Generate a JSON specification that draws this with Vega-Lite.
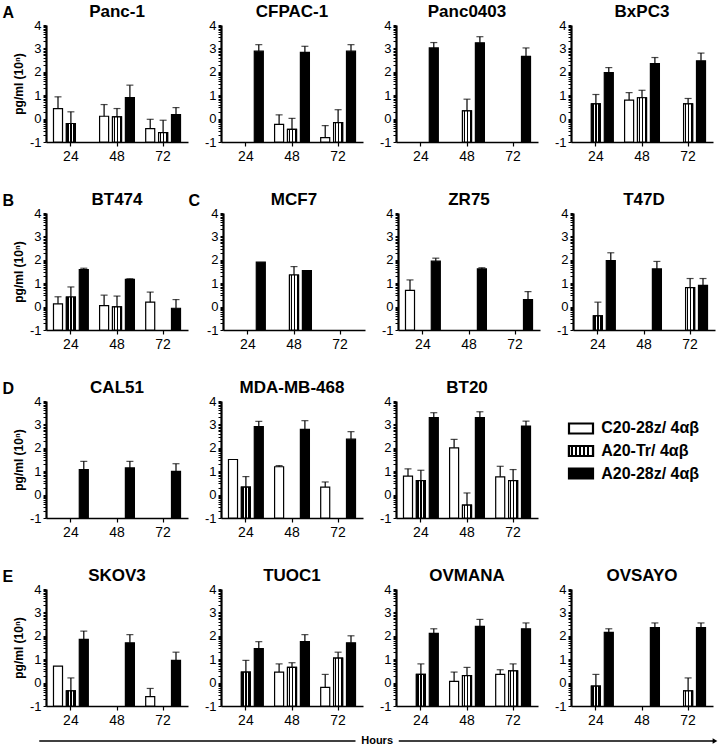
{
"$schema": "https://vega.github.io/schema/vega-lite/v6.json",
"background": "white",
"padding": {"left": 2, "top": 3, "right": 0, "bottom": 0},
"config": {
  "view": {"stroke": null},
  "font": "Liberation Sans",
  "axis": {"labelFont": "Liberation Sans", "labelFontSize": 13, "labelColor": "black", "domainColor": "black", "tickColor": "black", "grid": false, "titleFont": "Liberation Sans", "titleFontWeight": "bold", "titleFontSize": 12, "titleColor": "black"},
  "axisX": {"labelAngle": 0, "tickSize": 4, "tickWidth": 1.2, "domainWidth": 1.6, "labelPadding": 3, "labelFontSize": 14},
  "title": {"font": "Liberation Sans", "fontSize": 17, "fontWeight": "bold", "color": "black", "offset": -2}
},
"datasets": {
"bars": [
{"cell":"Panc-1","t":"24","g":"C20-28z/ 4αβ","v":0.43,"e":0.93},
{"cell":"Panc-1","t":"24","g":"A20-Tr/ 4αβ","v":-0.21,"e":0.29},
{"cell":"Panc-1","t":"48","g":"C20-28z/ 4αβ","v":0.1,"e":0.6},
{"cell":"Panc-1","t":"48","g":"A20-Tr/ 4αβ","v":0.07,"e":0.43},
{"cell":"Panc-1","t":"48","g":"A20-28z/ 4αβ","v":0.9,"e":1.43},
{"cell":"Panc-1","t":"72","g":"C20-28z/ 4αβ","v":-0.43,"e":-0.03},
{"cell":"Panc-1","t":"72","g":"A20-Tr/ 4αβ","v":-0.6,"e":-0.07},
{"cell":"Panc-1","t":"72","g":"A20-28z/ 4αβ","v":0.17,"e":0.47},
{"cell":"CFPAC-1","t":"24","g":"A20-28z/ 4αβ","v":2.88,"e":3.16},
{"cell":"CFPAC-1","t":"48","g":"C20-28z/ 4αβ","v":-0.25,"e":0.16},
{"cell":"CFPAC-1","t":"48","g":"A20-Tr/ 4αβ","v":-0.46,"e":0.01},
{"cell":"CFPAC-1","t":"48","g":"A20-28z/ 4αβ","v":2.83,"e":3.09},
{"cell":"CFPAC-1","t":"72","g":"C20-28z/ 4αβ","v":-0.81,"e":-0.3},
{"cell":"CFPAC-1","t":"72","g":"A20-Tr/ 4αβ","v":-0.17,"e":0.38},
{"cell":"CFPAC-1","t":"72","g":"A20-28z/ 4αβ","v":2.88,"e":3.16},
{"cell":"Panc0403","t":"24","g":"A20-28z/ 4αβ","v":3.02,"e":3.25},
{"cell":"Panc0403","t":"48","g":"A20-Tr/ 4αβ","v":0.33,"e":0.83},
{"cell":"Panc0403","t":"48","g":"A20-28z/ 4αβ","v":3.24,"e":3.5},
{"cell":"Panc0403","t":"72","g":"A20-28z/ 4αβ","v":2.66,"e":3.02},
{"cell":"BxPC3","t":"24","g":"A20-Tr/ 4αβ","v":0.63,"e":1.03},
{"cell":"BxPC3","t":"24","g":"A20-28z/ 4αβ","v":1.97,"e":2.18},
{"cell":"BxPC3","t":"48","g":"C20-28z/ 4αβ","v":0.79,"e":1.11},
{"cell":"BxPC3","t":"48","g":"A20-Tr/ 4αβ","v":0.89,"e":1.21},
{"cell":"BxPC3","t":"48","g":"A20-28z/ 4αβ","v":2.35,"e":2.61},
{"cell":"BxPC3","t":"72","g":"A20-Tr/ 4αβ","v":0.63,"e":0.86},
{"cell":"BxPC3","t":"72","g":"A20-28z/ 4αβ","v":2.47,"e":2.8},
{"cell":"BT474","t":"24","g":"C20-28z/ 4αβ","v":0.12,"e":0.42},
{"cell":"BT474","t":"24","g":"A20-Tr/ 4αβ","v":0.41,"e":0.84},
{"cell":"BT474","t":"24","g":"A20-28z/ 4αβ","v":1.58,"e":1.64},
{"cell":"BT474","t":"48","g":"C20-28z/ 4αβ","v":0.04,"e":0.49},
{"cell":"BT474","t":"48","g":"A20-Tr/ 4αβ","v":-0.01,"e":0.45},
{"cell":"BT474","t":"48","g":"A20-28z/ 4αβ","v":1.16,"e":1.19},
{"cell":"BT474","t":"72","g":"C20-28z/ 4αβ","v":0.19,"e":0.62},
{"cell":"BT474","t":"72","g":"A20-28z/ 4αβ","v":-0.07,"e":0.3},
{"cell":"MCF7","t":"24","g":"A20-28z/ 4αβ","v":1.9,"e":1.9},
{"cell":"MCF7","t":"48","g":"A20-Tr/ 4αβ","v":1.35,"e":1.71},
{"cell":"MCF7","t":"48","g":"A20-28z/ 4αβ","v":1.54,"e":1.54},
{"cell":"ZR75","t":"24","g":"C20-28z/ 4αβ","v":0.69,"e":1.14},
{"cell":"ZR75","t":"24","g":"A20-28z/ 4αβ","v":1.94,"e":2.07},
{"cell":"ZR75","t":"48","g":"A20-28z/ 4αβ","v":1.61,"e":1.66},
{"cell":"ZR75","t":"72","g":"A20-28z/ 4αβ","v":0.3,"e":0.64},
{"cell":"T47D","t":"24","g":"A20-Tr/ 4αβ","v":-0.4,"e":0.19},
{"cell":"T47D","t":"24","g":"A20-28z/ 4αβ","v":1.97,"e":2.3},
{"cell":"T47D","t":"48","g":"A20-28z/ 4αβ","v":1.61,"e":1.93},
{"cell":"T47D","t":"72","g":"A20-Tr/ 4αβ","v":0.81,"e":1.2},
{"cell":"T47D","t":"72","g":"A20-28z/ 4αβ","v":0.91,"e":1.2},
{"cell":"CAL51","t":"24","g":"A20-28z/ 4αβ","v":1.07,"e":1.42},
{"cell":"CAL51","t":"48","g":"A20-28z/ 4αβ","v":1.14,"e":1.42},
{"cell":"CAL51","t":"72","g":"A20-28z/ 4αβ","v":0.99,"e":1.32},
{"cell":"MDA-MB-468","t":"24","g":"C20-28z/ 4αβ","v":1.5,"e":1.5},
{"cell":"MDA-MB-468","t":"24","g":"A20-Tr/ 4αβ","v":0.32,"e":0.77},
{"cell":"MDA-MB-468","t":"24","g":"A20-28z/ 4αβ","v":2.91,"e":3.13},
{"cell":"MDA-MB-468","t":"48","g":"C20-28z/ 4αβ","v":1.19,"e":1.24},
{"cell":"MDA-MB-468","t":"48","g":"A20-28z/ 4αβ","v":2.79,"e":3.16},
{"cell":"MDA-MB-468","t":"72","g":"C20-28z/ 4αβ","v":0.32,"e":0.54},
{"cell":"MDA-MB-468","t":"72","g":"A20-28z/ 4αβ","v":2.37,"e":2.69},
{"cell":"BT20","t":"24","g":"C20-28z/ 4αβ","v":0.79,"e":1.1},
{"cell":"BT20","t":"24","g":"A20-Tr/ 4αβ","v":0.6,"e":1.04},
{"cell":"BT20","t":"24","g":"A20-28z/ 4αβ","v":3.29,"e":3.5},
{"cell":"BT20","t":"48","g":"C20-28z/ 4αβ","v":2.0,"e":2.36},
{"cell":"BT20","t":"48","g":"A20-Tr/ 4αβ","v":-0.45,"e":0.07},
{"cell":"BT20","t":"48","g":"A20-28z/ 4αβ","v":3.29,"e":3.54},
{"cell":"BT20","t":"72","g":"C20-28z/ 4αβ","v":0.76,"e":1.21},
{"cell":"BT20","t":"72","g":"A20-Tr/ 4αβ","v":0.6,"e":1.07},
{"cell":"BT20","t":"72","g":"A20-28z/ 4αβ","v":2.93,"e":3.14},
{"cell":"SKOV3","t":"24","g":"C20-28z/ 4αβ","v":0.7,"e":0.7},
{"cell":"SKOV3","t":"24","g":"A20-Tr/ 4αβ","v":-0.35,"e":0.2},
{"cell":"SKOV3","t":"24","g":"A20-28z/ 4αβ","v":1.85,"e":2.2},
{"cell":"SKOV3","t":"48","g":"A20-28z/ 4αβ","v":1.7,"e":2.05},
{"cell":"SKOV3","t":"72","g":"C20-28z/ 4αβ","v":-0.6,"e":-0.25},
{"cell":"SKOV3","t":"72","g":"A20-28z/ 4αβ","v":0.95,"e":1.3},
{"cell":"TUOC1","t":"24","g":"A20-Tr/ 4αβ","v":0.45,"e":0.95},
{"cell":"TUOC1","t":"24","g":"A20-28z/ 4αβ","v":1.45,"e":1.75},
{"cell":"TUOC1","t":"48","g":"C20-28z/ 4αβ","v":0.45,"e":0.8},
{"cell":"TUOC1","t":"48","g":"A20-Tr/ 4αβ","v":0.65,"e":0.85},
{"cell":"TUOC1","t":"48","g":"A20-28z/ 4αβ","v":1.75,"e":2.05},
{"cell":"TUOC1","t":"72","g":"C20-28z/ 4αβ","v":-0.2,"e":0.35},
{"cell":"TUOC1","t":"72","g":"A20-Tr/ 4αβ","v":1.05,"e":1.3},
{"cell":"TUOC1","t":"72","g":"A20-28z/ 4αβ","v":1.7,"e":2.0},
{"cell":"OVMANA","t":"24","g":"A20-Tr/ 4αβ","v":0.35,"e":0.8},
{"cell":"OVMANA","t":"24","g":"A20-28z/ 4αβ","v":2.1,"e":2.3},
{"cell":"OVMANA","t":"48","g":"C20-28z/ 4αβ","v":0.05,"e":0.45},
{"cell":"OVMANA","t":"48","g":"A20-Tr/ 4αβ","v":0.3,"e":0.65},
{"cell":"OVMANA","t":"48","g":"A20-28z/ 4αβ","v":2.4,"e":2.7},
{"cell":"OVMANA","t":"72","g":"C20-28z/ 4αβ","v":0.35,"e":0.55},
{"cell":"OVMANA","t":"72","g":"A20-Tr/ 4αβ","v":0.5,"e":0.8},
{"cell":"OVMANA","t":"72","g":"A20-28z/ 4αβ","v":2.3,"e":2.55},
{"cell":"OVSAYO","t":"24","g":"A20-Tr/ 4αβ","v":-0.15,"e":0.35},
{"cell":"OVSAYO","t":"24","g":"A20-28z/ 4αβ","v":2.15,"e":2.3},
{"cell":"OVSAYO","t":"48","g":"A20-28z/ 4αβ","v":2.35,"e":2.55},
{"cell":"OVSAYO","t":"72","g":"A20-Tr/ 4αβ","v":-0.35,"e":0.2},
{"cell":"OVSAYO","t":"72","g":"A20-28z/ 4αβ","v":2.35,"e":2.55}
],
"key": [{"g": "C20-28z/ 4αβ"}, {"g": "A20-Tr/ 4αβ"}, {"g": "A20-28z/ 4αβ"}],
"arrowline": [{"start": 0, "end": 0.468}, {"start": 0.532, "end": 1}],
"arrowhead": [{"end": 1}],
"arrowlabel": [{"mid": 0.5, "label": "Hours"}]
},
"spacing": 8,
"vconcat": [
{
"spacing": 28,
"vconcat": [
{
"title": {"text": "A", "anchor": "start", "fontSize": 16, "fontWeight": "bold", "offset": 0, "dx": -10, "dy": 18},
"spacing": 16,
"resolve": {"scale": {"fill": "independent"}, "legend": {"fill": "independent"}},
"hconcat": [
{"title": "Panc-1", "width": 142, "height": 117, "data": {"name": "bars"}, "transform": [{"filter": "datum.cell === 'Panc-1'"}],
 "encoding": {"x": {"field": "t", "type": "nominal", "title": null, "scale": {"domain": ["24","48","72"], "paddingInner": 0.2, "paddingOuter": 0.14}}, "xOffset": {"field": "g", "type": "nominal", "scale": {"domain": ["C20-28z/ 4αβ","A20-Tr/ 4αβ","A20-28z/ 4αβ"], "paddingInner": 0.3, "paddingOuter": 0.08}}},
 "layer": [
  {"mark": {"type": "bar", "stroke": "black", "strokeWidth": 1.2}, "encoding": {"y": {"field": "v", "type": "quantitative", "title": "pg/ml (10ⁿ)", "scale": {"domain": [-1,4], "nice": false, "zero": false}, "axis": {"values": [-1,-0.699,-0.523,-0.398,-0.301,-0.222,-0.155,-0.097,-0.046,0,0.301,0.477,0.602,0.699,0.778,0.845,0.903,0.954,1,1.301,1.477,1.602,1.699,1.778,1.845,1.903,1.954,2,2.301,2.477,2.602,2.699,2.778,2.845,2.903,2.954,3,3.301,3.477,3.602,3.699,3.778,3.845,3.903,3.954,4], "tickCount": 100, "labelExpr": "datum.value % 1 === 0 ? '' + datum.value : ''", "labelOverlap": false, "labelBound": false, "tickSize": 3, "tickWidth": 1, "domainWidth": 2.2, "labelPadding": 2, "titlePadding": 4}}, "y2": {"datum": -1}, "fill": {"field": "g", "type": "nominal", "scale": {"domain": ["C20-28z/ 4αβ","A20-Tr/ 4αβ","A20-28z/ 4αβ"], "range": ["white", "#808080", "black"]}, "legend": null}}},
  {"transform": [{"filter": "datum.g === 'A20-Tr/ 4αβ'"}], "mark": {"type": "bar", "stroke": "black", "strokeWidth": 1.2, "fill": {"gradient": "linear", "x1": 0, "y1": 0, "x2": 1, "y2": 0, "stops": [{"offset": 0, "color": "white"}, {"offset": 0.12, "color": "white"}, {"offset": 0.12, "color": "black"}, {"offset": 0.28, "color": "black"}, {"offset": 0.28, "color": "white"}, {"offset": 0.45, "color": "white"}, {"offset": 0.45, "color": "black"}, {"offset": 0.61, "color": "black"}, {"offset": 0.61, "color": "white"}, {"offset": 0.78, "color": "white"}, {"offset": 0.78, "color": "black"}, {"offset": 0.94, "color": "black"}, {"offset": 0.94, "color": "white"}, {"offset": 1, "color": "white"}]}}, "encoding": {"y": {"field": "v", "type": "quantitative", "title": "pg/ml (10ⁿ)"}, "y2": {"datum": -1}}},
  {"transform": [{"filter": "datum.e > datum.v + 0.02"}], "mark": {"type": "rule", "color": "black", "strokeWidth": 1.2}, "encoding": {"y": {"field": "v", "type": "quantitative", "title": "pg/ml (10ⁿ)"}, "y2": {"field": "e"}}},
  {"transform": [{"filter": "datum.e > datum.v + 0.02"}], "mark": {"type": "tick", "color": "black", "thickness": 1.2, "size": 7, "orient": "horizontal"}, "encoding": {"y": {"field": "e", "type": "quantitative", "title": "pg/ml (10ⁿ)"}}}
 ]},
{"title": "CFPAC-1", "width": 142, "height": 117, "data": {"name": "bars"}, "transform": [{"filter": "datum.cell === 'CFPAC-1'"}],
 "encoding": {"x": {"field": "t", "type": "nominal", "title": null, "scale": {"domain": ["24","48","72"], "paddingInner": 0.2, "paddingOuter": 0.14}}, "xOffset": {"field": "g", "type": "nominal", "scale": {"domain": ["C20-28z/ 4αβ","A20-Tr/ 4αβ","A20-28z/ 4αβ"], "paddingInner": 0.3, "paddingOuter": 0.08}}},
 "layer": [
  {"mark": {"type": "bar", "stroke": "black", "strokeWidth": 1.2}, "encoding": {"y": {"field": "v", "type": "quantitative", "title": null, "scale": {"domain": [-1,4], "nice": false, "zero": false}, "axis": {"values": [-1,-0.699,-0.523,-0.398,-0.301,-0.222,-0.155,-0.097,-0.046,0,0.301,0.477,0.602,0.699,0.778,0.845,0.903,0.954,1,1.301,1.477,1.602,1.699,1.778,1.845,1.903,1.954,2,2.301,2.477,2.602,2.699,2.778,2.845,2.903,2.954,3,3.301,3.477,3.602,3.699,3.778,3.845,3.903,3.954,4], "tickCount": 100, "labelExpr": "datum.value % 1 === 0 ? '' + datum.value : ''", "labelOverlap": false, "labelBound": false, "tickSize": 3, "tickWidth": 1, "domainWidth": 2.2, "labelPadding": 2}}, "y2": {"datum": -1}, "fill": {"field": "g", "type": "nominal", "scale": {"domain": ["C20-28z/ 4αβ","A20-Tr/ 4αβ","A20-28z/ 4αβ"], "range": ["white", "#808080", "black"]}, "legend": null}}},
  {"transform": [{"filter": "datum.g === 'A20-Tr/ 4αβ'"}], "mark": {"type": "bar", "stroke": "black", "strokeWidth": 1.2, "fill": {"gradient": "linear", "x1": 0, "y1": 0, "x2": 1, "y2": 0, "stops": [{"offset": 0, "color": "white"}, {"offset": 0.12, "color": "white"}, {"offset": 0.12, "color": "black"}, {"offset": 0.28, "color": "black"}, {"offset": 0.28, "color": "white"}, {"offset": 0.45, "color": "white"}, {"offset": 0.45, "color": "black"}, {"offset": 0.61, "color": "black"}, {"offset": 0.61, "color": "white"}, {"offset": 0.78, "color": "white"}, {"offset": 0.78, "color": "black"}, {"offset": 0.94, "color": "black"}, {"offset": 0.94, "color": "white"}, {"offset": 1, "color": "white"}]}}, "encoding": {"y": {"field": "v", "type": "quantitative", "title": null}, "y2": {"datum": -1}}},
  {"transform": [{"filter": "datum.e > datum.v + 0.02"}], "mark": {"type": "rule", "color": "black", "strokeWidth": 1.2}, "encoding": {"y": {"field": "v", "type": "quantitative", "title": null}, "y2": {"field": "e"}}},
  {"transform": [{"filter": "datum.e > datum.v + 0.02"}], "mark": {"type": "tick", "color": "black", "thickness": 1.2, "size": 7, "orient": "horizontal"}, "encoding": {"y": {"field": "e", "type": "quantitative", "title": null}}}
 ]},
{"title": "Panc0403", "width": 142, "height": 117, "data": {"name": "bars"}, "transform": [{"filter": "datum.cell === 'Panc0403'"}],
 "encoding": {"x": {"field": "t", "type": "nominal", "title": null, "scale": {"domain": ["24","48","72"], "paddingInner": 0.2, "paddingOuter": 0.14}}, "xOffset": {"field": "g", "type": "nominal", "scale": {"domain": ["C20-28z/ 4αβ","A20-Tr/ 4αβ","A20-28z/ 4αβ"], "paddingInner": 0.3, "paddingOuter": 0.08}}},
 "layer": [
  {"mark": {"type": "bar", "stroke": "black", "strokeWidth": 1.2}, "encoding": {"y": {"field": "v", "type": "quantitative", "title": null, "scale": {"domain": [-1,4], "nice": false, "zero": false}, "axis": {"values": [-1,-0.699,-0.523,-0.398,-0.301,-0.222,-0.155,-0.097,-0.046,0,0.301,0.477,0.602,0.699,0.778,0.845,0.903,0.954,1,1.301,1.477,1.602,1.699,1.778,1.845,1.903,1.954,2,2.301,2.477,2.602,2.699,2.778,2.845,2.903,2.954,3,3.301,3.477,3.602,3.699,3.778,3.845,3.903,3.954,4], "tickCount": 100, "labelExpr": "datum.value % 1 === 0 ? '' + datum.value : ''", "labelOverlap": false, "labelBound": false, "tickSize": 3, "tickWidth": 1, "domainWidth": 2.2, "labelPadding": 2}}, "y2": {"datum": -1}, "fill": {"field": "g", "type": "nominal", "scale": {"domain": ["C20-28z/ 4αβ","A20-Tr/ 4αβ","A20-28z/ 4αβ"], "range": ["white", "#808080", "black"]}, "legend": null}}},
  {"transform": [{"filter": "datum.g === 'A20-Tr/ 4αβ'"}], "mark": {"type": "bar", "stroke": "black", "strokeWidth": 1.2, "fill": {"gradient": "linear", "x1": 0, "y1": 0, "x2": 1, "y2": 0, "stops": [{"offset": 0, "color": "white"}, {"offset": 0.12, "color": "white"}, {"offset": 0.12, "color": "black"}, {"offset": 0.28, "color": "black"}, {"offset": 0.28, "color": "white"}, {"offset": 0.45, "color": "white"}, {"offset": 0.45, "color": "black"}, {"offset": 0.61, "color": "black"}, {"offset": 0.61, "color": "white"}, {"offset": 0.78, "color": "white"}, {"offset": 0.78, "color": "black"}, {"offset": 0.94, "color": "black"}, {"offset": 0.94, "color": "white"}, {"offset": 1, "color": "white"}]}}, "encoding": {"y": {"field": "v", "type": "quantitative", "title": null}, "y2": {"datum": -1}}},
  {"transform": [{"filter": "datum.e > datum.v + 0.02"}], "mark": {"type": "rule", "color": "black", "strokeWidth": 1.2}, "encoding": {"y": {"field": "v", "type": "quantitative", "title": null}, "y2": {"field": "e"}}},
  {"transform": [{"filter": "datum.e > datum.v + 0.02"}], "mark": {"type": "tick", "color": "black", "thickness": 1.2, "size": 7, "orient": "horizontal"}, "encoding": {"y": {"field": "e", "type": "quantitative", "title": null}}}
 ]},
{"title": "BxPC3", "width": 142, "height": 117, "data": {"name": "bars"}, "transform": [{"filter": "datum.cell === 'BxPC3'"}],
 "encoding": {"x": {"field": "t", "type": "nominal", "title": null, "scale": {"domain": ["24","48","72"], "paddingInner": 0.2, "paddingOuter": 0.14}}, "xOffset": {"field": "g", "type": "nominal", "scale": {"domain": ["C20-28z/ 4αβ","A20-Tr/ 4αβ","A20-28z/ 4αβ"], "paddingInner": 0.3, "paddingOuter": 0.08}}},
 "layer": [
  {"mark": {"type": "bar", "stroke": "black", "strokeWidth": 1.2}, "encoding": {"y": {"field": "v", "type": "quantitative", "title": null, "scale": {"domain": [-1,4], "nice": false, "zero": false}, "axis": {"values": [-1,-0.699,-0.523,-0.398,-0.301,-0.222,-0.155,-0.097,-0.046,0,0.301,0.477,0.602,0.699,0.778,0.845,0.903,0.954,1,1.301,1.477,1.602,1.699,1.778,1.845,1.903,1.954,2,2.301,2.477,2.602,2.699,2.778,2.845,2.903,2.954,3,3.301,3.477,3.602,3.699,3.778,3.845,3.903,3.954,4], "tickCount": 100, "labelExpr": "datum.value % 1 === 0 ? '' + datum.value : ''", "labelOverlap": false, "labelBound": false, "tickSize": 3, "tickWidth": 1, "domainWidth": 2.2, "labelPadding": 2}}, "y2": {"datum": -1}, "fill": {"field": "g", "type": "nominal", "scale": {"domain": ["C20-28z/ 4αβ","A20-Tr/ 4αβ","A20-28z/ 4αβ"], "range": ["white", "#808080", "black"]}, "legend": null}}},
  {"transform": [{"filter": "datum.g === 'A20-Tr/ 4αβ'"}], "mark": {"type": "bar", "stroke": "black", "strokeWidth": 1.2, "fill": {"gradient": "linear", "x1": 0, "y1": 0, "x2": 1, "y2": 0, "stops": [{"offset": 0, "color": "white"}, {"offset": 0.12, "color": "white"}, {"offset": 0.12, "color": "black"}, {"offset": 0.28, "color": "black"}, {"offset": 0.28, "color": "white"}, {"offset": 0.45, "color": "white"}, {"offset": 0.45, "color": "black"}, {"offset": 0.61, "color": "black"}, {"offset": 0.61, "color": "white"}, {"offset": 0.78, "color": "white"}, {"offset": 0.78, "color": "black"}, {"offset": 0.94, "color": "black"}, {"offset": 0.94, "color": "white"}, {"offset": 1, "color": "white"}]}}, "encoding": {"y": {"field": "v", "type": "quantitative", "title": null}, "y2": {"datum": -1}}},
  {"transform": [{"filter": "datum.e > datum.v + 0.02"}], "mark": {"type": "rule", "color": "black", "strokeWidth": 1.2}, "encoding": {"y": {"field": "v", "type": "quantitative", "title": null}, "y2": {"field": "e"}}},
  {"transform": [{"filter": "datum.e > datum.v + 0.02"}], "mark": {"type": "tick", "color": "black", "thickness": 1.2, "size": 7, "orient": "horizontal"}, "encoding": {"y": {"field": "e", "type": "quantitative", "title": null}}}
 ]}
]
},
{
"title": {"text": "B", "anchor": "start", "fontSize": 16, "fontWeight": "bold", "offset": 0, "dx": -10, "dy": 18},
"spacing": 0,
"resolve": {"scale": {"fill": "independent"}, "legend": {"fill": "independent"}},
"hconcat": [
{"title": "BT474", "width": 142, "height": 117, "data": {"name": "bars"}, "transform": [{"filter": "datum.cell === 'BT474'"}],
 "encoding": {"x": {"field": "t", "type": "nominal", "title": null, "scale": {"domain": ["24","48","72"], "paddingInner": 0.2, "paddingOuter": 0.14}}, "xOffset": {"field": "g", "type": "nominal", "scale": {"domain": ["C20-28z/ 4αβ","A20-Tr/ 4αβ","A20-28z/ 4αβ"], "paddingInner": 0.3, "paddingOuter": 0.08}}},
 "layer": [
  {"mark": {"type": "bar", "stroke": "black", "strokeWidth": 1.2}, "encoding": {"y": {"field": "v", "type": "quantitative", "title": "pg/ml (10ⁿ)", "scale": {"domain": [-1,4], "nice": false, "zero": false}, "axis": {"values": [-1,-0.699,-0.523,-0.398,-0.301,-0.222,-0.155,-0.097,-0.046,0,0.301,0.477,0.602,0.699,0.778,0.845,0.903,0.954,1,1.301,1.477,1.602,1.699,1.778,1.845,1.903,1.954,2,2.301,2.477,2.602,2.699,2.778,2.845,2.903,2.954,3,3.301,3.477,3.602,3.699,3.778,3.845,3.903,3.954,4], "tickCount": 100, "labelExpr": "datum.value % 1 === 0 ? '' + datum.value : ''", "labelOverlap": false, "labelBound": false, "tickSize": 3, "tickWidth": 1, "domainWidth": 2.2, "labelPadding": 2, "titlePadding": 4}}, "y2": {"datum": -1}, "fill": {"field": "g", "type": "nominal", "scale": {"domain": ["C20-28z/ 4αβ","A20-Tr/ 4αβ","A20-28z/ 4αβ"], "range": ["white", "#808080", "black"]}, "legend": null}}},
  {"transform": [{"filter": "datum.g === 'A20-Tr/ 4αβ'"}], "mark": {"type": "bar", "stroke": "black", "strokeWidth": 1.2, "fill": {"gradient": "linear", "x1": 0, "y1": 0, "x2": 1, "y2": 0, "stops": [{"offset": 0, "color": "white"}, {"offset": 0.12, "color": "white"}, {"offset": 0.12, "color": "black"}, {"offset": 0.28, "color": "black"}, {"offset": 0.28, "color": "white"}, {"offset": 0.45, "color": "white"}, {"offset": 0.45, "color": "black"}, {"offset": 0.61, "color": "black"}, {"offset": 0.61, "color": "white"}, {"offset": 0.78, "color": "white"}, {"offset": 0.78, "color": "black"}, {"offset": 0.94, "color": "black"}, {"offset": 0.94, "color": "white"}, {"offset": 1, "color": "white"}]}}, "encoding": {"y": {"field": "v", "type": "quantitative", "title": "pg/ml (10ⁿ)"}, "y2": {"datum": -1}}},
  {"transform": [{"filter": "datum.e > datum.v + 0.02"}], "mark": {"type": "rule", "color": "black", "strokeWidth": 1.2}, "encoding": {"y": {"field": "v", "type": "quantitative", "title": "pg/ml (10ⁿ)"}, "y2": {"field": "e"}}},
  {"transform": [{"filter": "datum.e > datum.v + 0.02"}], "mark": {"type": "tick", "color": "black", "thickness": 1.2, "size": 7, "orient": "horizontal"}, "encoding": {"y": {"field": "e", "type": "quantitative", "title": "pg/ml (10ⁿ)"}}}
 ]},
{
"title": {"text": "C", "anchor": "start", "fontSize": 16, "fontWeight": "bold", "offset": 0, "dx": -18, "dy": 18},
"spacing": 16,
"resolve": {"scale": {"fill": "independent"}, "legend": {"fill": "independent"}},
"hconcat": [
{"title": "MCF7", "width": 142, "height": 117, "data": {"name": "bars"}, "transform": [{"filter": "datum.cell === 'MCF7'"}],
 "encoding": {"x": {"field": "t", "type": "nominal", "title": null, "scale": {"domain": ["24","48","72"], "paddingInner": 0.2, "paddingOuter": 0.14}}, "xOffset": {"field": "g", "type": "nominal", "scale": {"domain": ["C20-28z/ 4αβ","A20-Tr/ 4αβ","A20-28z/ 4αβ"], "paddingInner": 0.3, "paddingOuter": 0.08}}},
 "layer": [
  {"mark": {"type": "bar", "stroke": "black", "strokeWidth": 1.2}, "encoding": {"y": {"field": "v", "type": "quantitative", "title": null, "scale": {"domain": [-1,4], "nice": false, "zero": false}, "axis": {"values": [-1,-0.699,-0.523,-0.398,-0.301,-0.222,-0.155,-0.097,-0.046,0,0.301,0.477,0.602,0.699,0.778,0.845,0.903,0.954,1,1.301,1.477,1.602,1.699,1.778,1.845,1.903,1.954,2,2.301,2.477,2.602,2.699,2.778,2.845,2.903,2.954,3,3.301,3.477,3.602,3.699,3.778,3.845,3.903,3.954,4], "tickCount": 100, "labelExpr": "datum.value % 1 === 0 ? '' + datum.value : ''", "labelOverlap": false, "labelBound": false, "tickSize": 3, "tickWidth": 1, "domainWidth": 2.2, "labelPadding": 2}}, "y2": {"datum": -1}, "fill": {"field": "g", "type": "nominal", "scale": {"domain": ["C20-28z/ 4αβ","A20-Tr/ 4αβ","A20-28z/ 4αβ"], "range": ["white", "#808080", "black"]}, "legend": null}}},
  {"transform": [{"filter": "datum.g === 'A20-Tr/ 4αβ'"}], "mark": {"type": "bar", "stroke": "black", "strokeWidth": 1.2, "fill": {"gradient": "linear", "x1": 0, "y1": 0, "x2": 1, "y2": 0, "stops": [{"offset": 0, "color": "white"}, {"offset": 0.12, "color": "white"}, {"offset": 0.12, "color": "black"}, {"offset": 0.28, "color": "black"}, {"offset": 0.28, "color": "white"}, {"offset": 0.45, "color": "white"}, {"offset": 0.45, "color": "black"}, {"offset": 0.61, "color": "black"}, {"offset": 0.61, "color": "white"}, {"offset": 0.78, "color": "white"}, {"offset": 0.78, "color": "black"}, {"offset": 0.94, "color": "black"}, {"offset": 0.94, "color": "white"}, {"offset": 1, "color": "white"}]}}, "encoding": {"y": {"field": "v", "type": "quantitative", "title": null}, "y2": {"datum": -1}}},
  {"transform": [{"filter": "datum.e > datum.v + 0.02"}], "mark": {"type": "rule", "color": "black", "strokeWidth": 1.2}, "encoding": {"y": {"field": "v", "type": "quantitative", "title": null}, "y2": {"field": "e"}}},
  {"transform": [{"filter": "datum.e > datum.v + 0.02"}], "mark": {"type": "tick", "color": "black", "thickness": 1.2, "size": 7, "orient": "horizontal"}, "encoding": {"y": {"field": "e", "type": "quantitative", "title": null}}}
 ]},
{"title": "ZR75", "width": 142, "height": 117, "data": {"name": "bars"}, "transform": [{"filter": "datum.cell === 'ZR75'"}],
 "encoding": {"x": {"field": "t", "type": "nominal", "title": null, "scale": {"domain": ["24","48","72"], "paddingInner": 0.2, "paddingOuter": 0.14}}, "xOffset": {"field": "g", "type": "nominal", "scale": {"domain": ["C20-28z/ 4αβ","A20-Tr/ 4αβ","A20-28z/ 4αβ"], "paddingInner": 0.3, "paddingOuter": 0.08}}},
 "layer": [
  {"mark": {"type": "bar", "stroke": "black", "strokeWidth": 1.2}, "encoding": {"y": {"field": "v", "type": "quantitative", "title": null, "scale": {"domain": [-1,4], "nice": false, "zero": false}, "axis": {"values": [-1,-0.699,-0.523,-0.398,-0.301,-0.222,-0.155,-0.097,-0.046,0,0.301,0.477,0.602,0.699,0.778,0.845,0.903,0.954,1,1.301,1.477,1.602,1.699,1.778,1.845,1.903,1.954,2,2.301,2.477,2.602,2.699,2.778,2.845,2.903,2.954,3,3.301,3.477,3.602,3.699,3.778,3.845,3.903,3.954,4], "tickCount": 100, "labelExpr": "datum.value % 1 === 0 ? '' + datum.value : ''", "labelOverlap": false, "labelBound": false, "tickSize": 3, "tickWidth": 1, "domainWidth": 2.2, "labelPadding": 2}}, "y2": {"datum": -1}, "fill": {"field": "g", "type": "nominal", "scale": {"domain": ["C20-28z/ 4αβ","A20-Tr/ 4αβ","A20-28z/ 4αβ"], "range": ["white", "#808080", "black"]}, "legend": null}}},
  {"transform": [{"filter": "datum.g === 'A20-Tr/ 4αβ'"}], "mark": {"type": "bar", "stroke": "black", "strokeWidth": 1.2, "fill": {"gradient": "linear", "x1": 0, "y1": 0, "x2": 1, "y2": 0, "stops": [{"offset": 0, "color": "white"}, {"offset": 0.12, "color": "white"}, {"offset": 0.12, "color": "black"}, {"offset": 0.28, "color": "black"}, {"offset": 0.28, "color": "white"}, {"offset": 0.45, "color": "white"}, {"offset": 0.45, "color": "black"}, {"offset": 0.61, "color": "black"}, {"offset": 0.61, "color": "white"}, {"offset": 0.78, "color": "white"}, {"offset": 0.78, "color": "black"}, {"offset": 0.94, "color": "black"}, {"offset": 0.94, "color": "white"}, {"offset": 1, "color": "white"}]}}, "encoding": {"y": {"field": "v", "type": "quantitative", "title": null}, "y2": {"datum": -1}}},
  {"transform": [{"filter": "datum.e > datum.v + 0.02"}], "mark": {"type": "rule", "color": "black", "strokeWidth": 1.2}, "encoding": {"y": {"field": "v", "type": "quantitative", "title": null}, "y2": {"field": "e"}}},
  {"transform": [{"filter": "datum.e > datum.v + 0.02"}], "mark": {"type": "tick", "color": "black", "thickness": 1.2, "size": 7, "orient": "horizontal"}, "encoding": {"y": {"field": "e", "type": "quantitative", "title": null}}}
 ]},
{"title": "T47D", "width": 142, "height": 117, "data": {"name": "bars"}, "transform": [{"filter": "datum.cell === 'T47D'"}],
 "encoding": {"x": {"field": "t", "type": "nominal", "title": null, "scale": {"domain": ["24","48","72"], "paddingInner": 0.2, "paddingOuter": 0.14}}, "xOffset": {"field": "g", "type": "nominal", "scale": {"domain": ["C20-28z/ 4αβ","A20-Tr/ 4αβ","A20-28z/ 4αβ"], "paddingInner": 0.3, "paddingOuter": 0.08}}},
 "layer": [
  {"mark": {"type": "bar", "stroke": "black", "strokeWidth": 1.2}, "encoding": {"y": {"field": "v", "type": "quantitative", "title": null, "scale": {"domain": [-1,4], "nice": false, "zero": false}, "axis": {"values": [-1,-0.699,-0.523,-0.398,-0.301,-0.222,-0.155,-0.097,-0.046,0,0.301,0.477,0.602,0.699,0.778,0.845,0.903,0.954,1,1.301,1.477,1.602,1.699,1.778,1.845,1.903,1.954,2,2.301,2.477,2.602,2.699,2.778,2.845,2.903,2.954,3,3.301,3.477,3.602,3.699,3.778,3.845,3.903,3.954,4], "tickCount": 100, "labelExpr": "datum.value % 1 === 0 ? '' + datum.value : ''", "labelOverlap": false, "labelBound": false, "tickSize": 3, "tickWidth": 1, "domainWidth": 2.2, "labelPadding": 2}}, "y2": {"datum": -1}, "fill": {"field": "g", "type": "nominal", "scale": {"domain": ["C20-28z/ 4αβ","A20-Tr/ 4αβ","A20-28z/ 4αβ"], "range": ["white", "#808080", "black"]}, "legend": null}}},
  {"transform": [{"filter": "datum.g === 'A20-Tr/ 4αβ'"}], "mark": {"type": "bar", "stroke": "black", "strokeWidth": 1.2, "fill": {"gradient": "linear", "x1": 0, "y1": 0, "x2": 1, "y2": 0, "stops": [{"offset": 0, "color": "white"}, {"offset": 0.12, "color": "white"}, {"offset": 0.12, "color": "black"}, {"offset": 0.28, "color": "black"}, {"offset": 0.28, "color": "white"}, {"offset": 0.45, "color": "white"}, {"offset": 0.45, "color": "black"}, {"offset": 0.61, "color": "black"}, {"offset": 0.61, "color": "white"}, {"offset": 0.78, "color": "white"}, {"offset": 0.78, "color": "black"}, {"offset": 0.94, "color": "black"}, {"offset": 0.94, "color": "white"}, {"offset": 1, "color": "white"}]}}, "encoding": {"y": {"field": "v", "type": "quantitative", "title": null}, "y2": {"datum": -1}}},
  {"transform": [{"filter": "datum.e > datum.v + 0.02"}], "mark": {"type": "rule", "color": "black", "strokeWidth": 1.2}, "encoding": {"y": {"field": "v", "type": "quantitative", "title": null}, "y2": {"field": "e"}}},
  {"transform": [{"filter": "datum.e > datum.v + 0.02"}], "mark": {"type": "tick", "color": "black", "thickness": 1.2, "size": 7, "orient": "horizontal"}, "encoding": {"y": {"field": "e", "type": "quantitative", "title": null}}}
 ]}
]
}
]
},
{
"title": {"text": "D", "anchor": "start", "fontSize": 16, "fontWeight": "bold", "offset": 0, "dx": -10, "dy": 18},
"spacing": 16,
"resolve": {"scale": {"fill": "independent"}, "legend": {"fill": "independent"}},
"hconcat": [
{"title": "CAL51", "width": 142, "height": 117, "data": {"name": "bars"}, "transform": [{"filter": "datum.cell === 'CAL51'"}],
 "encoding": {"x": {"field": "t", "type": "nominal", "title": null, "scale": {"domain": ["24","48","72"], "paddingInner": 0.2, "paddingOuter": 0.14}}, "xOffset": {"field": "g", "type": "nominal", "scale": {"domain": ["C20-28z/ 4αβ","A20-Tr/ 4αβ","A20-28z/ 4αβ"], "paddingInner": 0.3, "paddingOuter": 0.08}}},
 "layer": [
  {"mark": {"type": "bar", "stroke": "black", "strokeWidth": 1.2}, "encoding": {"y": {"field": "v", "type": "quantitative", "title": "pg/ml (10ⁿ)", "scale": {"domain": [-1,4], "nice": false, "zero": false}, "axis": {"values": [-1,-0.699,-0.523,-0.398,-0.301,-0.222,-0.155,-0.097,-0.046,0,0.301,0.477,0.602,0.699,0.778,0.845,0.903,0.954,1,1.301,1.477,1.602,1.699,1.778,1.845,1.903,1.954,2,2.301,2.477,2.602,2.699,2.778,2.845,2.903,2.954,3,3.301,3.477,3.602,3.699,3.778,3.845,3.903,3.954,4], "tickCount": 100, "labelExpr": "datum.value % 1 === 0 ? '' + datum.value : ''", "labelOverlap": false, "labelBound": false, "tickSize": 3, "tickWidth": 1, "domainWidth": 2.2, "labelPadding": 2, "titlePadding": 4}}, "y2": {"datum": -1}, "fill": {"field": "g", "type": "nominal", "scale": {"domain": ["C20-28z/ 4αβ","A20-Tr/ 4αβ","A20-28z/ 4αβ"], "range": ["white", "#808080", "black"]}, "legend": null}}},
  {"transform": [{"filter": "datum.e > datum.v + 0.02"}], "mark": {"type": "rule", "color": "black", "strokeWidth": 1.2}, "encoding": {"y": {"field": "v", "type": "quantitative", "title": "pg/ml (10ⁿ)"}, "y2": {"field": "e"}}},
  {"transform": [{"filter": "datum.e > datum.v + 0.02"}], "mark": {"type": "tick", "color": "black", "thickness": 1.2, "size": 7, "orient": "horizontal"}, "encoding": {"y": {"field": "e", "type": "quantitative", "title": "pg/ml (10ⁿ)"}}}
 ]},
{"title": "MDA-MB-468", "width": 142, "height": 117, "data": {"name": "bars"}, "transform": [{"filter": "datum.cell === 'MDA-MB-468'"}],
 "encoding": {"x": {"field": "t", "type": "nominal", "title": null, "scale": {"domain": ["24","48","72"], "paddingInner": 0.2, "paddingOuter": 0.14}}, "xOffset": {"field": "g", "type": "nominal", "scale": {"domain": ["C20-28z/ 4αβ","A20-Tr/ 4αβ","A20-28z/ 4αβ"], "paddingInner": 0.3, "paddingOuter": 0.08}}},
 "layer": [
  {"mark": {"type": "bar", "stroke": "black", "strokeWidth": 1.2}, "encoding": {"y": {"field": "v", "type": "quantitative", "title": null, "scale": {"domain": [-1,4], "nice": false, "zero": false}, "axis": {"values": [-1,-0.699,-0.523,-0.398,-0.301,-0.222,-0.155,-0.097,-0.046,0,0.301,0.477,0.602,0.699,0.778,0.845,0.903,0.954,1,1.301,1.477,1.602,1.699,1.778,1.845,1.903,1.954,2,2.301,2.477,2.602,2.699,2.778,2.845,2.903,2.954,3,3.301,3.477,3.602,3.699,3.778,3.845,3.903,3.954,4], "tickCount": 100, "labelExpr": "datum.value % 1 === 0 ? '' + datum.value : ''", "labelOverlap": false, "labelBound": false, "tickSize": 3, "tickWidth": 1, "domainWidth": 2.2, "labelPadding": 2}}, "y2": {"datum": -1}, "fill": {"field": "g", "type": "nominal", "scale": {"domain": ["C20-28z/ 4αβ","A20-Tr/ 4αβ","A20-28z/ 4αβ"], "range": ["white", "#808080", "black"]}, "legend": null}}},
  {"transform": [{"filter": "datum.g === 'A20-Tr/ 4αβ'"}], "mark": {"type": "bar", "stroke": "black", "strokeWidth": 1.2, "fill": {"gradient": "linear", "x1": 0, "y1": 0, "x2": 1, "y2": 0, "stops": [{"offset": 0, "color": "white"}, {"offset": 0.12, "color": "white"}, {"offset": 0.12, "color": "black"}, {"offset": 0.28, "color": "black"}, {"offset": 0.28, "color": "white"}, {"offset": 0.45, "color": "white"}, {"offset": 0.45, "color": "black"}, {"offset": 0.61, "color": "black"}, {"offset": 0.61, "color": "white"}, {"offset": 0.78, "color": "white"}, {"offset": 0.78, "color": "black"}, {"offset": 0.94, "color": "black"}, {"offset": 0.94, "color": "white"}, {"offset": 1, "color": "white"}]}}, "encoding": {"y": {"field": "v", "type": "quantitative", "title": null}, "y2": {"datum": -1}}},
  {"transform": [{"filter": "datum.e > datum.v + 0.02"}], "mark": {"type": "rule", "color": "black", "strokeWidth": 1.2}, "encoding": {"y": {"field": "v", "type": "quantitative", "title": null}, "y2": {"field": "e"}}},
  {"transform": [{"filter": "datum.e > datum.v + 0.02"}], "mark": {"type": "tick", "color": "black", "thickness": 1.2, "size": 7, "orient": "horizontal"}, "encoding": {"y": {"field": "e", "type": "quantitative", "title": null}}}
 ]},
{"title": "BT20", "width": 142, "height": 117, "data": {"name": "bars"}, "transform": [{"filter": "datum.cell === 'BT20'"}],
 "encoding": {"x": {"field": "t", "type": "nominal", "title": null, "scale": {"domain": ["24","48","72"], "paddingInner": 0.2, "paddingOuter": 0.14}}, "xOffset": {"field": "g", "type": "nominal", "scale": {"domain": ["C20-28z/ 4αβ","A20-Tr/ 4αβ","A20-28z/ 4αβ"], "paddingInner": 0.3, "paddingOuter": 0.08}}},
 "layer": [
  {"mark": {"type": "bar", "stroke": "black", "strokeWidth": 1.2}, "encoding": {"y": {"field": "v", "type": "quantitative", "title": null, "scale": {"domain": [-1,4], "nice": false, "zero": false}, "axis": {"values": [-1,-0.699,-0.523,-0.398,-0.301,-0.222,-0.155,-0.097,-0.046,0,0.301,0.477,0.602,0.699,0.778,0.845,0.903,0.954,1,1.301,1.477,1.602,1.699,1.778,1.845,1.903,1.954,2,2.301,2.477,2.602,2.699,2.778,2.845,2.903,2.954,3,3.301,3.477,3.602,3.699,3.778,3.845,3.903,3.954,4], "tickCount": 100, "labelExpr": "datum.value % 1 === 0 ? '' + datum.value : ''", "labelOverlap": false, "labelBound": false, "tickSize": 3, "tickWidth": 1, "domainWidth": 2.2, "labelPadding": 2}}, "y2": {"datum": -1}, "fill": {"field": "g", "type": "nominal", "scale": {"domain": ["C20-28z/ 4αβ","A20-Tr/ 4αβ","A20-28z/ 4αβ"], "range": ["white", "#808080", "black"]}, "legend": null}}},
  {"transform": [{"filter": "datum.g === 'A20-Tr/ 4αβ'"}], "mark": {"type": "bar", "stroke": "black", "strokeWidth": 1.2, "fill": {"gradient": "linear", "x1": 0, "y1": 0, "x2": 1, "y2": 0, "stops": [{"offset": 0, "color": "white"}, {"offset": 0.12, "color": "white"}, {"offset": 0.12, "color": "black"}, {"offset": 0.28, "color": "black"}, {"offset": 0.28, "color": "white"}, {"offset": 0.45, "color": "white"}, {"offset": 0.45, "color": "black"}, {"offset": 0.61, "color": "black"}, {"offset": 0.61, "color": "white"}, {"offset": 0.78, "color": "white"}, {"offset": 0.78, "color": "black"}, {"offset": 0.94, "color": "black"}, {"offset": 0.94, "color": "white"}, {"offset": 1, "color": "white"}]}}, "encoding": {"y": {"field": "v", "type": "quantitative", "title": null}, "y2": {"datum": -1}}},
  {"transform": [{"filter": "datum.e > datum.v + 0.02"}], "mark": {"type": "rule", "color": "black", "strokeWidth": 1.2}, "encoding": {"y": {"field": "v", "type": "quantitative", "title": null}, "y2": {"field": "e"}}},
  {"transform": [{"filter": "datum.e > datum.v + 0.02"}], "mark": {"type": "tick", "color": "black", "thickness": 1.2, "size": 7, "orient": "horizontal"}, "encoding": {"y": {"field": "e", "type": "quantitative", "title": null}}}
 ]},
{"width": 150, "height": 100, "data": {"name": "key"},
 "encoding": {"y": {"field": "g", "type": "nominal", "title": null, "axis": null, "scale": {"domain": ["C20-28z/ 4αβ","A20-Tr/ 4αβ","A20-28z/ 4αβ"], "paddingInner": 0.556, "paddingOuter": 1}}},
 "layer": [
  {"mark": {"type": "bar", "stroke": "black", "strokeWidth": 2.2}, "encoding": {"x": {"datum": 0, "type": "quantitative", "scale": {"domain": [-1, 9], "nice": false, "zero": false}, "axis": null}, "x2": {"datum": 1.6}, "fill": {"field": "g", "type": "nominal", "scale": {"domain": ["C20-28z/ 4αβ","A20-Tr/ 4αβ","A20-28z/ 4αβ"], "range": ["white", "#808080", "black"]}, "legend": null}}},
  {"transform": [{"filter": "datum.g === 'A20-Tr/ 4αβ'"}], "mark": {"type": "bar", "stroke": "black", "strokeWidth": 2.2, "fill": {"gradient": "linear", "x1": 0, "y1": 0, "x2": 1, "y2": 0, "stops": [{"offset": 0, "color": "white"}, {"offset": 0.08, "color": "white"}, {"offset": 0.08, "color": "black"}, {"offset": 0.17, "color": "black"}, {"offset": 0.17, "color": "white"}, {"offset": 0.25, "color": "white"}, {"offset": 0.25, "color": "black"}, {"offset": 0.34, "color": "black"}, {"offset": 0.34, "color": "white"}, {"offset": 0.42, "color": "white"}, {"offset": 0.42, "color": "black"}, {"offset": 0.51, "color": "black"}, {"offset": 0.51, "color": "white"}, {"offset": 0.59, "color": "white"}, {"offset": 0.59, "color": "black"}, {"offset": 0.68, "color": "black"}, {"offset": 0.68, "color": "white"}, {"offset": 0.76, "color": "white"}, {"offset": 0.76, "color": "black"}, {"offset": 0.85, "color": "black"}, {"offset": 0.85, "color": "white"}, {"offset": 1, "color": "white"}]}}, "encoding": {"x": {"datum": 0, "type": "quantitative"}, "x2": {"datum": 1.6}}},
  {"mark": {"type": "text", "align": "left", "baseline": "middle", "font": "Liberation Sans", "fontSize": 16, "fontWeight": "bold", "color": "black"}, "encoding": {"x": {"datum": 2.15, "type": "quantitative"}, "text": {"field": "g"}}}
 ]}
]
},
{
"title": {"text": "E", "anchor": "start", "fontSize": 16, "fontWeight": "bold", "offset": 0, "dx": -10, "dy": 18},
"spacing": 16,
"resolve": {"scale": {"fill": "independent"}, "legend": {"fill": "independent"}},
"hconcat": [
{"title": "SKOV3", "width": 142, "height": 117, "data": {"name": "bars"}, "transform": [{"filter": "datum.cell === 'SKOV3'"}],
 "encoding": {"x": {"field": "t", "type": "nominal", "title": null, "scale": {"domain": ["24","48","72"], "paddingInner": 0.2, "paddingOuter": 0.14}}, "xOffset": {"field": "g", "type": "nominal", "scale": {"domain": ["C20-28z/ 4αβ","A20-Tr/ 4αβ","A20-28z/ 4αβ"], "paddingInner": 0.3, "paddingOuter": 0.08}}},
 "layer": [
  {"mark": {"type": "bar", "stroke": "black", "strokeWidth": 1.2}, "encoding": {"y": {"field": "v", "type": "quantitative", "title": "pg/ml (10ⁿ)", "scale": {"domain": [-1,4], "nice": false, "zero": false}, "axis": {"values": [-1,-0.699,-0.523,-0.398,-0.301,-0.222,-0.155,-0.097,-0.046,0,0.301,0.477,0.602,0.699,0.778,0.845,0.903,0.954,1,1.301,1.477,1.602,1.699,1.778,1.845,1.903,1.954,2,2.301,2.477,2.602,2.699,2.778,2.845,2.903,2.954,3,3.301,3.477,3.602,3.699,3.778,3.845,3.903,3.954,4], "tickCount": 100, "labelExpr": "datum.value % 1 === 0 ? '' + datum.value : ''", "labelOverlap": false, "labelBound": false, "tickSize": 3, "tickWidth": 1, "domainWidth": 2.2, "labelPadding": 2, "titlePadding": 4}}, "y2": {"datum": -1}, "fill": {"field": "g", "type": "nominal", "scale": {"domain": ["C20-28z/ 4αβ","A20-Tr/ 4αβ","A20-28z/ 4αβ"], "range": ["white", "#808080", "black"]}, "legend": null}}},
  {"transform": [{"filter": "datum.g === 'A20-Tr/ 4αβ'"}], "mark": {"type": "bar", "stroke": "black", "strokeWidth": 1.2, "fill": {"gradient": "linear", "x1": 0, "y1": 0, "x2": 1, "y2": 0, "stops": [{"offset": 0, "color": "white"}, {"offset": 0.12, "color": "white"}, {"offset": 0.12, "color": "black"}, {"offset": 0.28, "color": "black"}, {"offset": 0.28, "color": "white"}, {"offset": 0.45, "color": "white"}, {"offset": 0.45, "color": "black"}, {"offset": 0.61, "color": "black"}, {"offset": 0.61, "color": "white"}, {"offset": 0.78, "color": "white"}, {"offset": 0.78, "color": "black"}, {"offset": 0.94, "color": "black"}, {"offset": 0.94, "color": "white"}, {"offset": 1, "color": "white"}]}}, "encoding": {"y": {"field": "v", "type": "quantitative", "title": "pg/ml (10ⁿ)"}, "y2": {"datum": -1}}},
  {"transform": [{"filter": "datum.e > datum.v + 0.02"}], "mark": {"type": "rule", "color": "black", "strokeWidth": 1.2}, "encoding": {"y": {"field": "v", "type": "quantitative", "title": "pg/ml (10ⁿ)"}, "y2": {"field": "e"}}},
  {"transform": [{"filter": "datum.e > datum.v + 0.02"}], "mark": {"type": "tick", "color": "black", "thickness": 1.2, "size": 7, "orient": "horizontal"}, "encoding": {"y": {"field": "e", "type": "quantitative", "title": "pg/ml (10ⁿ)"}}}
 ]},
{"title": "TUOC1", "width": 142, "height": 117, "data": {"name": "bars"}, "transform": [{"filter": "datum.cell === 'TUOC1'"}],
 "encoding": {"x": {"field": "t", "type": "nominal", "title": null, "scale": {"domain": ["24","48","72"], "paddingInner": 0.2, "paddingOuter": 0.14}}, "xOffset": {"field": "g", "type": "nominal", "scale": {"domain": ["C20-28z/ 4αβ","A20-Tr/ 4αβ","A20-28z/ 4αβ"], "paddingInner": 0.3, "paddingOuter": 0.08}}},
 "layer": [
  {"mark": {"type": "bar", "stroke": "black", "strokeWidth": 1.2}, "encoding": {"y": {"field": "v", "type": "quantitative", "title": null, "scale": {"domain": [-1,4], "nice": false, "zero": false}, "axis": {"values": [-1,-0.699,-0.523,-0.398,-0.301,-0.222,-0.155,-0.097,-0.046,0,0.301,0.477,0.602,0.699,0.778,0.845,0.903,0.954,1,1.301,1.477,1.602,1.699,1.778,1.845,1.903,1.954,2,2.301,2.477,2.602,2.699,2.778,2.845,2.903,2.954,3,3.301,3.477,3.602,3.699,3.778,3.845,3.903,3.954,4], "tickCount": 100, "labelExpr": "datum.value % 1 === 0 ? '' + datum.value : ''", "labelOverlap": false, "labelBound": false, "tickSize": 3, "tickWidth": 1, "domainWidth": 2.2, "labelPadding": 2}}, "y2": {"datum": -1}, "fill": {"field": "g", "type": "nominal", "scale": {"domain": ["C20-28z/ 4αβ","A20-Tr/ 4αβ","A20-28z/ 4αβ"], "range": ["white", "#808080", "black"]}, "legend": null}}},
  {"transform": [{"filter": "datum.g === 'A20-Tr/ 4αβ'"}], "mark": {"type": "bar", "stroke": "black", "strokeWidth": 1.2, "fill": {"gradient": "linear", "x1": 0, "y1": 0, "x2": 1, "y2": 0, "stops": [{"offset": 0, "color": "white"}, {"offset": 0.12, "color": "white"}, {"offset": 0.12, "color": "black"}, {"offset": 0.28, "color": "black"}, {"offset": 0.28, "color": "white"}, {"offset": 0.45, "color": "white"}, {"offset": 0.45, "color": "black"}, {"offset": 0.61, "color": "black"}, {"offset": 0.61, "color": "white"}, {"offset": 0.78, "color": "white"}, {"offset": 0.78, "color": "black"}, {"offset": 0.94, "color": "black"}, {"offset": 0.94, "color": "white"}, {"offset": 1, "color": "white"}]}}, "encoding": {"y": {"field": "v", "type": "quantitative", "title": null}, "y2": {"datum": -1}}},
  {"transform": [{"filter": "datum.e > datum.v + 0.02"}], "mark": {"type": "rule", "color": "black", "strokeWidth": 1.2}, "encoding": {"y": {"field": "v", "type": "quantitative", "title": null}, "y2": {"field": "e"}}},
  {"transform": [{"filter": "datum.e > datum.v + 0.02"}], "mark": {"type": "tick", "color": "black", "thickness": 1.2, "size": 7, "orient": "horizontal"}, "encoding": {"y": {"field": "e", "type": "quantitative", "title": null}}}
 ]},
{"title": "OVMANA", "width": 142, "height": 117, "data": {"name": "bars"}, "transform": [{"filter": "datum.cell === 'OVMANA'"}],
 "encoding": {"x": {"field": "t", "type": "nominal", "title": null, "scale": {"domain": ["24","48","72"], "paddingInner": 0.2, "paddingOuter": 0.14}}, "xOffset": {"field": "g", "type": "nominal", "scale": {"domain": ["C20-28z/ 4αβ","A20-Tr/ 4αβ","A20-28z/ 4αβ"], "paddingInner": 0.3, "paddingOuter": 0.08}}},
 "layer": [
  {"mark": {"type": "bar", "stroke": "black", "strokeWidth": 1.2}, "encoding": {"y": {"field": "v", "type": "quantitative", "title": null, "scale": {"domain": [-1,4], "nice": false, "zero": false}, "axis": {"values": [-1,-0.699,-0.523,-0.398,-0.301,-0.222,-0.155,-0.097,-0.046,0,0.301,0.477,0.602,0.699,0.778,0.845,0.903,0.954,1,1.301,1.477,1.602,1.699,1.778,1.845,1.903,1.954,2,2.301,2.477,2.602,2.699,2.778,2.845,2.903,2.954,3,3.301,3.477,3.602,3.699,3.778,3.845,3.903,3.954,4], "tickCount": 100, "labelExpr": "datum.value % 1 === 0 ? '' + datum.value : ''", "labelOverlap": false, "labelBound": false, "tickSize": 3, "tickWidth": 1, "domainWidth": 2.2, "labelPadding": 2}}, "y2": {"datum": -1}, "fill": {"field": "g", "type": "nominal", "scale": {"domain": ["C20-28z/ 4αβ","A20-Tr/ 4αβ","A20-28z/ 4αβ"], "range": ["white", "#808080", "black"]}, "legend": null}}},
  {"transform": [{"filter": "datum.g === 'A20-Tr/ 4αβ'"}], "mark": {"type": "bar", "stroke": "black", "strokeWidth": 1.2, "fill": {"gradient": "linear", "x1": 0, "y1": 0, "x2": 1, "y2": 0, "stops": [{"offset": 0, "color": "white"}, {"offset": 0.12, "color": "white"}, {"offset": 0.12, "color": "black"}, {"offset": 0.28, "color": "black"}, {"offset": 0.28, "color": "white"}, {"offset": 0.45, "color": "white"}, {"offset": 0.45, "color": "black"}, {"offset": 0.61, "color": "black"}, {"offset": 0.61, "color": "white"}, {"offset": 0.78, "color": "white"}, {"offset": 0.78, "color": "black"}, {"offset": 0.94, "color": "black"}, {"offset": 0.94, "color": "white"}, {"offset": 1, "color": "white"}]}}, "encoding": {"y": {"field": "v", "type": "quantitative", "title": null}, "y2": {"datum": -1}}},
  {"transform": [{"filter": "datum.e > datum.v + 0.02"}], "mark": {"type": "rule", "color": "black", "strokeWidth": 1.2}, "encoding": {"y": {"field": "v", "type": "quantitative", "title": null}, "y2": {"field": "e"}}},
  {"transform": [{"filter": "datum.e > datum.v + 0.02"}], "mark": {"type": "tick", "color": "black", "thickness": 1.2, "size": 7, "orient": "horizontal"}, "encoding": {"y": {"field": "e", "type": "quantitative", "title": null}}}
 ]},
{"title": "OVSAYO", "width": 142, "height": 117, "data": {"name": "bars"}, "transform": [{"filter": "datum.cell === 'OVSAYO'"}],
 "encoding": {"x": {"field": "t", "type": "nominal", "title": null, "scale": {"domain": ["24","48","72"], "paddingInner": 0.2, "paddingOuter": 0.14}}, "xOffset": {"field": "g", "type": "nominal", "scale": {"domain": ["C20-28z/ 4αβ","A20-Tr/ 4αβ","A20-28z/ 4αβ"], "paddingInner": 0.3, "paddingOuter": 0.08}}},
 "layer": [
  {"mark": {"type": "bar", "stroke": "black", "strokeWidth": 1.2}, "encoding": {"y": {"field": "v", "type": "quantitative", "title": null, "scale": {"domain": [-1,4], "nice": false, "zero": false}, "axis": {"values": [-1,-0.699,-0.523,-0.398,-0.301,-0.222,-0.155,-0.097,-0.046,0,0.301,0.477,0.602,0.699,0.778,0.845,0.903,0.954,1,1.301,1.477,1.602,1.699,1.778,1.845,1.903,1.954,2,2.301,2.477,2.602,2.699,2.778,2.845,2.903,2.954,3,3.301,3.477,3.602,3.699,3.778,3.845,3.903,3.954,4], "tickCount": 100, "labelExpr": "datum.value % 1 === 0 ? '' + datum.value : ''", "labelOverlap": false, "labelBound": false, "tickSize": 3, "tickWidth": 1, "domainWidth": 2.2, "labelPadding": 2}}, "y2": {"datum": -1}, "fill": {"field": "g", "type": "nominal", "scale": {"domain": ["C20-28z/ 4αβ","A20-Tr/ 4αβ","A20-28z/ 4αβ"], "range": ["white", "#808080", "black"]}, "legend": null}}},
  {"transform": [{"filter": "datum.g === 'A20-Tr/ 4αβ'"}], "mark": {"type": "bar", "stroke": "black", "strokeWidth": 1.2, "fill": {"gradient": "linear", "x1": 0, "y1": 0, "x2": 1, "y2": 0, "stops": [{"offset": 0, "color": "white"}, {"offset": 0.12, "color": "white"}, {"offset": 0.12, "color": "black"}, {"offset": 0.28, "color": "black"}, {"offset": 0.28, "color": "white"}, {"offset": 0.45, "color": "white"}, {"offset": 0.45, "color": "black"}, {"offset": 0.61, "color": "black"}, {"offset": 0.61, "color": "white"}, {"offset": 0.78, "color": "white"}, {"offset": 0.78, "color": "black"}, {"offset": 0.94, "color": "black"}, {"offset": 0.94, "color": "white"}, {"offset": 1, "color": "white"}]}}, "encoding": {"y": {"field": "v", "type": "quantitative", "title": null}, "y2": {"datum": -1}}},
  {"transform": [{"filter": "datum.e > datum.v + 0.02"}], "mark": {"type": "rule", "color": "black", "strokeWidth": 1.2}, "encoding": {"y": {"field": "v", "type": "quantitative", "title": null}, "y2": {"field": "e"}}},
  {"transform": [{"filter": "datum.e > datum.v + 0.02"}], "mark": {"type": "tick", "color": "black", "thickness": 1.2, "size": 7, "orient": "horizontal"}, "encoding": {"y": {"field": "e", "type": "quantitative", "title": null}}}
 ]}
]
}
]
},
{
"width": 669, "height": 12,
"layer": [
 {"data": {"name": "arrowline"}, "mark": {"type": "rule", "color": "black", "strokeWidth": 1.3}, "encoding": {"x": {"field": "start", "type": "quantitative", "scale": {"domain": [0.01, 1], "nice": false, "zero": false}, "axis": null}, "x2": {"field": "end"}, "y": {"datum": 0, "type": "quantitative", "scale": {"domain": [-1, 1], "nice": false, "zero": false}, "axis": null}}},
 {"data": {"name": "arrowhead"}, "mark": {"type": "point", "shape": "triangle-right", "filled": true, "color": "black", "size": 30, "opacity": 1}, "encoding": {"x": {"field": "end", "type": "quantitative", "scale": {"domain": [0.01, 1], "nice": false, "zero": false}, "axis": null}, "y": {"datum": 0, "type": "quantitative", "scale": {"domain": [-1, 1], "nice": false, "zero": false}, "axis": null}}},
 {"data": {"name": "arrowlabel"}, "mark": {"type": "text", "font": "Liberation Sans", "fontSize": 11, "fontWeight": "bold", "color": "black", "baseline": "middle"}, "encoding": {"x": {"field": "mid", "type": "quantitative", "scale": {"domain": [0.01, 1], "nice": false, "zero": false}, "axis": null}, "y": {"datum": 0, "type": "quantitative", "scale": {"domain": [-1, 1], "nice": false, "zero": false}, "axis": null}, "text": {"field": "label"}}}
 ]
}
]
}
